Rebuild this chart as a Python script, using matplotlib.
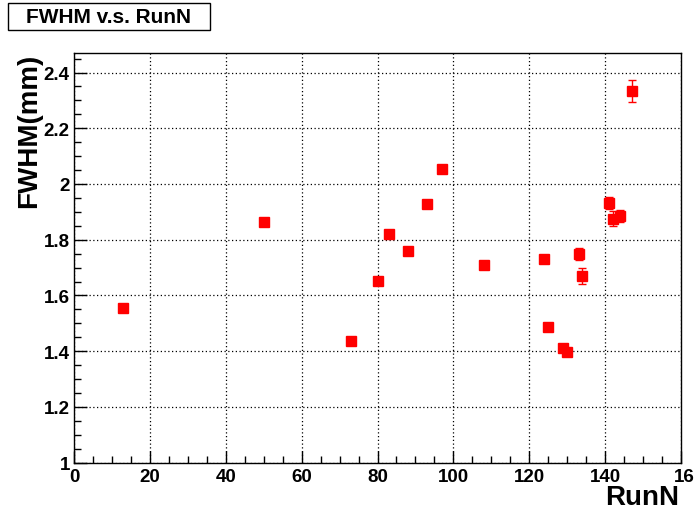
import matplotlib
matplotlib.use('Agg')
import matplotlib.pyplot as plt
import matplotlib.transforms as mtransforms
from matplotlib.ticker import MultipleLocator
from matplotlib.patches import Rectangle

# --- Data ---
run_n = [13, 50, 73, 80, 83, 88, 93, 97, 108, 124, 125, 129, 130, 133, 134, 141, 142, 144, 147]
fwhm = [1.555, 1.863, 1.436, 1.652, 1.820, 1.759, 1.928, 2.054, 1.709, 1.732, 1.485,
        1.410, 1.396, 1.750, 1.670, 1.932, 1.876, 1.885, 2.334]
fwhm_err = [0.008, 0.008, 0.008, 0.012, 0.010, 0.015, 0.008, 0.010, 0.008, 0.008, 0.010,
            0.014, 0.012, 0.022, 0.028, 0.022, 0.026, 0.023, 0.041]

title_text = 'FWHM v.s. RunN'
x_label = 'RunN'
y_label = 'FWHM(mm)'

# --- Figure ---
plt.rcParams['font.family'] = ['Liberation Sans', 'DejaVu Sans']
plt.rcParams['font.weight'] = 'bold'

fig = plt.figure(figsize=(6.94, 5.10), dpi=100)
ax = fig.add_axes([0.1066, 0.091, 0.8747, 0.803])

ax.errorbar(run_n, fwhm, yerr=fwhm_err, fmt='s', color='red', ecolor='red',
            markersize=7, elinewidth=1, capsize=3, capthick=1, zorder=3)

ax.set_xlim(0, 160)
ax.set_ylim(1.0, 2.47)

ax.xaxis.set_major_locator(MultipleLocator(20))
ax.xaxis.set_minor_locator(MultipleLocator(5))
ax.yaxis.set_major_locator(MultipleLocator(0.2))
ax.yaxis.set_minor_locator(MultipleLocator(0.05))

ax.yaxis.set_major_formatter(plt.FuncFormatter(lambda v, p: f'{v:g}'))

ax.tick_params(axis='x', which='major', direction='in', length=9, width=1,
               labelsize=13.5, pad=4, top=False)
ax.tick_params(axis='x', which='minor', direction='in', length=5, width=1, top=False)
ax.tick_params(axis='y', which='major', direction='in', length=9, width=1,
               labelsize=13.5, pad=3, right=False)
ax.tick_params(axis='y', which='minor', direction='in', length=5, width=1, right=False)
for lbl in ax.get_xticklabels() + ax.get_yticklabels():
    lbl.set_fontweight('bold')

# ROOT pushes the last x label towards the edge
fig.canvas.draw()
last = [t for t in ax.get_xticklabels() if t.get_text() == '160']
for t in last:
    t.set_transform(t.get_transform() + mtransforms.ScaledTranslation(8 / 100, 0, fig.dpi_scale_trans))

ax.grid(True, which='major', linestyle=(0, (1, 2)), color='black', linewidth=0.9)
ax.set_axisbelow(True)
for s in ax.spines.values():
    s.set_linewidth(1)

# axis titles
ax.set_xlabel(x_label, fontsize=20, fontweight='bold', ha='right', va='top')
ax.xaxis.set_label_coords(0.997, -0.052)
ax.set_ylabel(y_label, fontsize=20, fontweight='bold', ha='right')
ax.yaxis.set_label_coords(-0.053, 1.0)

# --- Title box (ROOT style) ---
fig.patches.append(Rectangle((8 / 694, 1 - 31 / 510), 202 / 694, 27 / 510,
                             transform=fig.transFigure, facecolor='white',
                             edgecolor='black', linewidth=1))
fig.text(109 / 694, 1 - 17.5 / 510, title_text, ha='center', va='center',
         fontsize=15, fontweight='bold')

plt.savefig('out.png', dpi=100)
